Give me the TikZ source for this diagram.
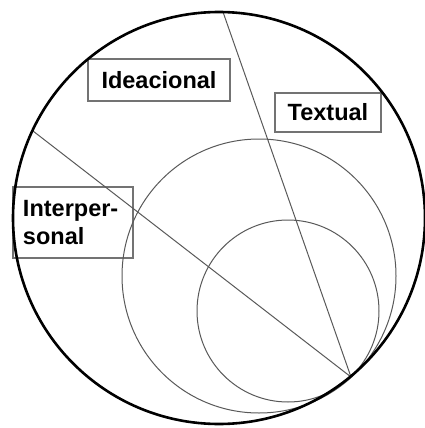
\documentclass[tikz,border=0pt]{standalone}
\usepackage{fontspec}
\setmainfont{Liberation Sans}
\usetikzlibrary{positioning}
\definecolor{rule}{gray}{0.35}
\definecolor{frame}{gray}{0.45}

\begin{document}
\begin{tikzpicture}[x=1pt,y=-1pt,
  labelbox/.style={draw=frame,line width=1.3pt,inner sep=0pt,
    font=\bfseries\fontsize{23.5}{28}\selectfont},
  thin/.style={draw=rule,line width=1pt}]
\useasboundingbox (0,0) rectangle (425,428);
\coordinate (c) at (219,218);
\coordinate (tang) at (351,377);
\coordinate (top) at (223,12);
\coordinate (left) at (33,131);
\node[labelbox,minimum width=142pt,minimum height=42pt] (ideacional) at (159,80) {Ideacional};
\node[labelbox,minimum width=106pt,minimum height=39pt] (textual) at (328,112.5) {Textual};
\node[labelbox,minimum width=120pt,minimum height=71pt,text width=100pt,align=left]
  (interpersonal) at (73,222.5) {Interper-\\sonal};
\draw[thin] (259,276) circle (137);
\draw[thin] (288,311) circle (91);
\draw[thin] (top)--(tang);
\draw[thin] (left)--(tang);
\draw[line width=2.6pt] (c) circle (206);
\end{tikzpicture}
\end{document}
